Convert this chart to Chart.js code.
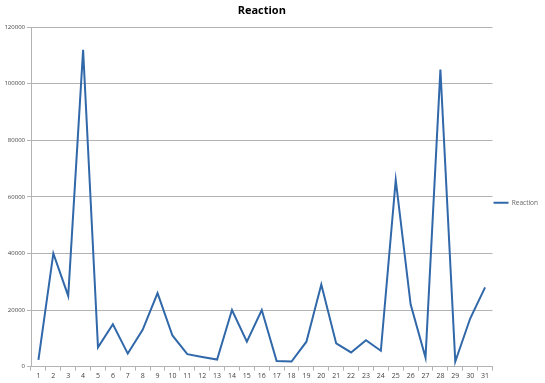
<!DOCTYPE html>
<html><head><meta charset="utf-8">
<script src="https://cdn.jsdelivr.net/npm/chart.js@4/dist/chart.umd.min.js"></script>
<style>html,body{margin:0;padding:0;background:#fff}#w{width:545px;height:383px}</style>
</head><body><div id="w"><canvas id="c"></canvas></div>
<script>
const categories = ["1","2","3","4","5","6","7","8","9","10","11","12","13","14","15","16","17","18","19","20","21","22","23","24","25","26","27","28","29","30","31"];
const reaction = [2400,40000,25000,112000,6800,15000,4600,13000,26000,11000,4400,3400,2500,20000,8800,20000,2000,1800,8800,29000,8200,5000,9300,5600,66000,22000,3200,105000,1800,17000,28000];
const yTicks = [0,20000,40000,60000,80000,100000,120000];

new Chart(document.getElementById('c'), {
  type: 'line',
  data: { labels: categories, datasets: [{ label: 'Reaction', data: reaction, borderColor: '#3068a9', backgroundColor: '#3068a9', borderWidth: 2, pointRadius: 0, tension: 0, fill: false }] },
  options: {
    responsive: true, maintainAspectRatio: false, animation: false,
    layout: { padding: { left: 0, right: -3, top: 0, bottom: 2 } },
    plugins: {
      title: { display: true, text: 'Reaction', fullSize: false, color: '#000', font: { family: 'Open Sans', size: 11, weight: 'bold' }, padding: { top: 4, bottom: 10 } },
      legend: { position: 'right',
        title: { display: true, text: ' ', font: { size: 7 }, padding: { top: 8, bottom: 8 } },
        labels: { boxWidth: 15, boxHeight: 0, color: '#333', font: { family: 'Open Sans', size: 6.5 }, padding: 1,
        generateLabels: (chart) => [{ text: 'Reaction', strokeStyle: '#3068a9', fillStyle: '#3068a9', lineWidth: 2, datasetIndex: 0 }] } },
      tooltip: { enabled: false }
    },
    scales: {
      x: { offset: true,
        grid: { offset: true, drawOnChartArea: false, drawTicks: true, tickLength: 4, color: '#b3b3b3' },
        border: { color: '#b3b3b3' },
        ticks: { color: '#444', font: { family: 'Open Sans', size: 7 }, maxRotation: 0, autoSkip: false, padding: 1 } },
      y: { min: 0, max: 120000,
        afterBuildTicks: (s) => { s.ticks = yTicks.map(v => ({ value: v })); },
        afterFit: (s) => { s.width = 31; },
        grid: { color: '#b3b3b3', tickLength: 4 },
        border: { color: '#b3b3b3' },
        ticks: { color: '#444', font: { family: 'Open Sans', size: 6 }, padding: 2, callback: (v) => String(v) } }
    }
  }
});
</script></body></html>
